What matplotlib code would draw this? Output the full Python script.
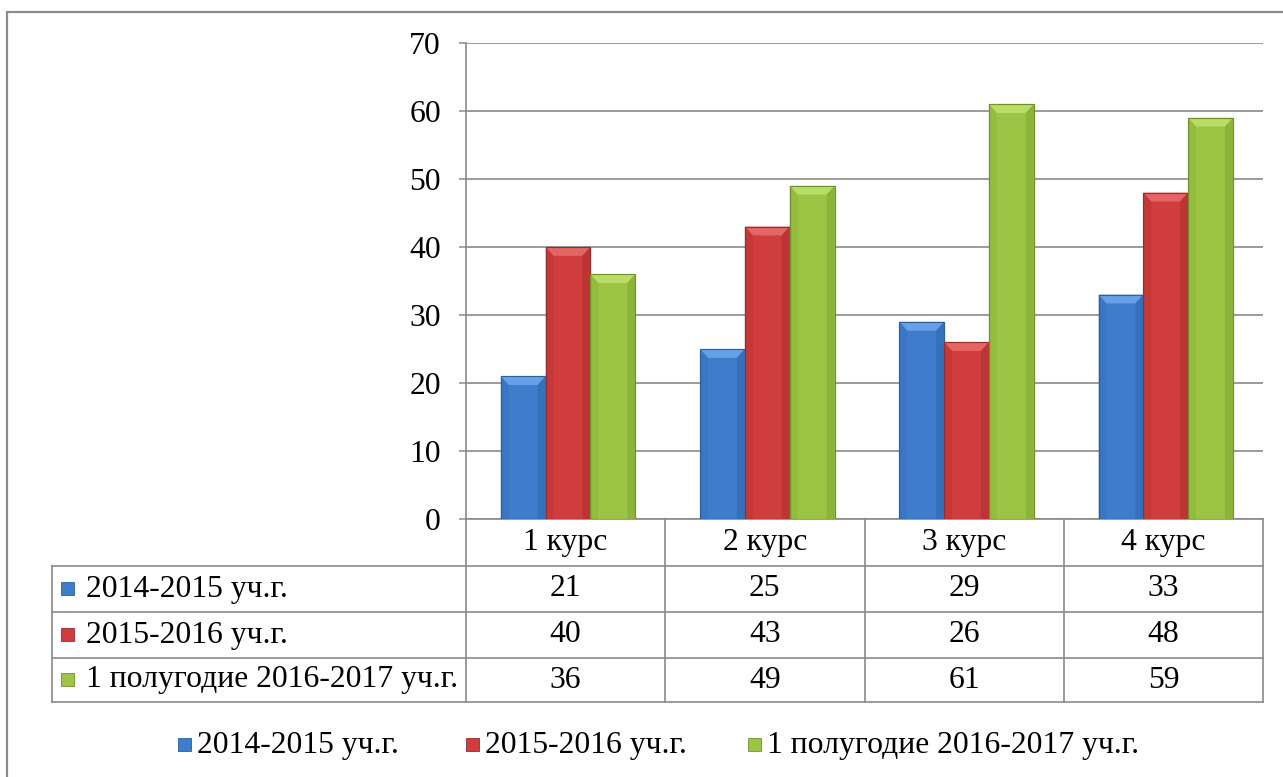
import matplotlib
matplotlib.use("Agg")
import matplotlib.pyplot as plt
from matplotlib.patches import Rectangle, Polygon
from matplotlib.lines import Line2D
import numpy as np

categories = ["1 курс", "2 курс", "3 курс", "4 курс"]
series_names = ["2014-2015 уч.г.", "2015-2016 уч.г.", "1 полугодие 2016-2017 уч.г."]
s2014 = [21, 25, 29, 33]
s2015 = [40, 43, 26, 48]
s2016 = [36, 49, 61, 59]
series_values = [s2014, s2015, s2016]
y_ticks = [0, 10, 20, 30, 40, 50, 60, 70]

colors = ["#3f7dcc", "#d03d3d", "#9dc545"]
edge_colors = ["#2d5e9e", "#982b2b", "#71912c"]
top_colors = ["#66a0e6", "#e56565", "#b9dc66"]
side_colors = ["#3670bb", "#bb3535", "#8cb43b"]

W, H = 1283, 777
plt.rcParams['font.family'] = ['Liberation Serif', 'DejaVu Serif']
FS = 22.8
GRID = "#8a8a8a"

fig = plt.figure(figsize=(W / 100, H / 100), dpi=100)

def fx(px):
    return px / W

def fy(py):
    return 1 - py / H

# outer frame
fig.patches.append(Rectangle((fx(7), -0.05), 1.1, fy(12) + 0.05, transform=fig.transFigure,
                             fill=False, edgecolor="#8c8c8c", lw=1.6, zorder=0))

ax_l, ax_r, ax_t, ax_b = 466, 1263, 43, 519
ax = fig.add_axes([fx(ax_l), fy(ax_b), fx(ax_r) - fx(ax_l), fy(ax_t) - fy(ax_b)])
ax.set_xlim(-0.5, len(categories) - 0.5)
ax.set_ylim(0, 70)
ax.set_yticks(y_ticks)
ax.set_yticklabels([str(t) for t in y_ticks], fontsize=FS)
ax.set_xticks([])
ax.tick_params(axis='y', direction='out', length=5, width=1.1, color=GRID, pad=13)
ax.yaxis.grid(True, color=GRID, lw=1.2)
ax.set_axisbelow(True)
for s in ["top", "right"]:
    ax.spines[s].set_visible(False)
ax.spines["left"].set_color(GRID)
ax.spines["left"].set_linewidth(1.2)
ax.spines["bottom"].set_color(GRID)
ax.spines["bottom"].set_linewidth(1.2)

x = np.arange(len(categories))
bw = 0.225
shift = 0.012
bx = 0.04
by = 1.3
for i, vals in enumerate(series_values):
    bars = ax.bar(x + (i - 1) * bw + shift, vals, width=bw, color=colors[i],
                  edgecolor=edge_colors[i], linewidth=0.8, zorder=3)
    for b in bars:
        x0 = b.get_x()
        x1 = x0 + b.get_width()
        h = b.get_height()
        ax.add_patch(Polygon([(x0, h), (x1, h), (x1 - bx, h - by), (x0 + bx, h - by)],
                             closed=True, facecolor=top_colors[i], edgecolor="none", zorder=4))
        ax.add_patch(Polygon([(x1, h), (x1 - bx, h - by), (x1 - bx, 0), (x1, 0)],
                             closed=True, facecolor=side_colors[i], edgecolor="none", zorder=4))
        ax.add_patch(Polygon([(x0, h), (x0 + bx, h - by), (x0 + bx, 0), (x0, 0)],
                             closed=True, facecolor=side_colors[i], edgecolor="none", zorder=4, alpha=0.5))
        ax.add_patch(Rectangle((x0, 0), b.get_width(), h, fill=False,
                               edgecolor=edge_colors[i], lw=0.8, zorder=5))

# data table
tbl_left = 52
rows_y = [519, 566, 612, 658, 702]
col_w = (ax_r - ax_l) / len(categories)
col_edges = [ax_l + k * col_w for k in range(len(categories) + 1)]

def hline(px0, px1, py):
    fig.add_artist(Line2D([fx(px0), fx(px1)], [fy(py), fy(py)], transform=fig.transFigure,
                          color=GRID, lw=1.2))

def vline(px, py0, py1):
    fig.add_artist(Line2D([fx(px), fx(px)], [fy(py0), fy(py1)], transform=fig.transFigure,
                          color=GRID, lw=1.2))

for py in rows_y[1:]:
    hline(tbl_left, ax_r, py)
for px in col_edges:
    vline(px, rows_y[0], rows_y[-1])
vline(tbl_left, rows_y[1], rows_y[-1])

for j, cat in enumerate(categories):
    cx = (col_edges[j] + col_edges[j + 1]) / 2
    fig.text(fx(cx), fy((rows_y[0] + rows_y[1]) / 2), cat, ha='center', va='center', fontsize=FS)
    for i, vals in enumerate(series_values):
        fig.text(fx(cx), fy((rows_y[i + 1] + rows_y[i + 2]) / 2), str(vals[j]),
                 ha='center', va='center', fontsize=FS)

sq = 13
for i, name in enumerate(series_names):
    cy = (rows_y[i + 1] + rows_y[i + 2]) / 2
    fig.patches.append(Rectangle((fx(61), fy(cy + sq / 2 - 1)), sq / W, sq / H, transform=fig.transFigure,
                                 facecolor=colors[i], edgecolor=edge_colors[i], lw=0.6))
    fig.text(fx(86), fy(cy), name, ha='left', va='center', fontsize=FS)

# bottom legend
leg_y = 745
leg_sq_x = [178, 466, 748]
for i, name in enumerate(series_names):
    fig.patches.append(Rectangle((fx(leg_sq_x[i]), fy(leg_y + sq / 2 - 1)), sq / W, sq / H,
                                 transform=fig.transFigure,
                                 facecolor=colors[i], edgecolor=edge_colors[i], lw=0.6))
    fig.text(fx(leg_sq_x[i] + 19), fy(leg_y), name, ha='left', va='center', fontsize=FS)

fig.savefig("out.png", dpi=100)
